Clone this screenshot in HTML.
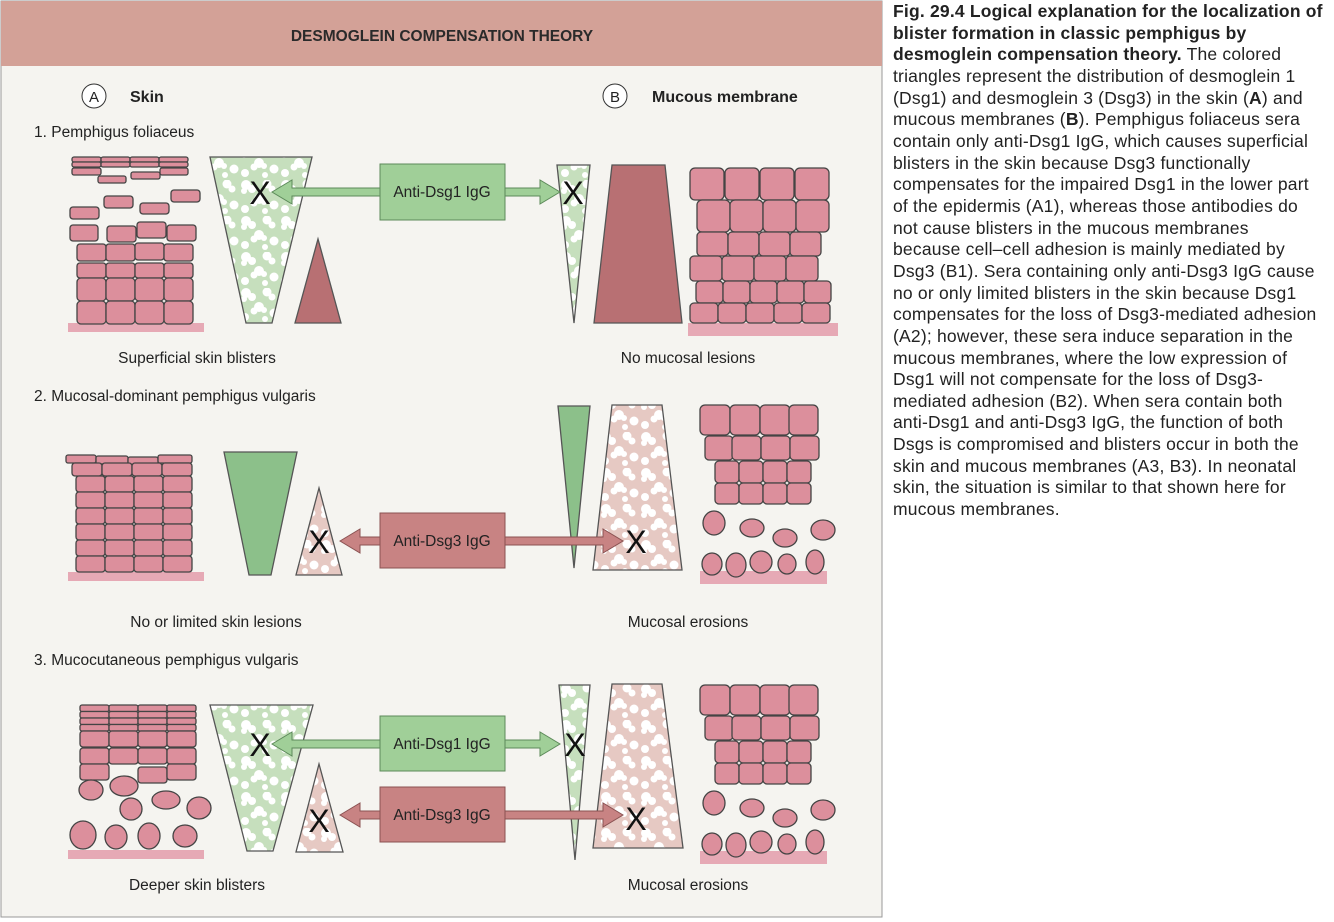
<!DOCTYPE html>
<html><head><meta charset="utf-8"><style>
body{margin:0;background:#fff;width:1334px;height:922px;overflow:hidden;font-family:"Liberation Sans",sans-serif}
#cap{position:absolute;left:893px;top:1px;font-size:17.5px;letter-spacing:0.2px;line-height:21.65px;color:#222;white-space:nowrap}
#cap b{color:#222}
</style></head><body>
<svg width="884" height="922" style="position:absolute;left:0;top:0" font-family="Liberation Sans, sans-serif">
<defs>
<pattern id="pg" width="40" height="36" patternUnits="userSpaceOnUse">
<rect width="40" height="36" fill="#c6dfbd"/>
<g fill="#fff"><circle cx="6" cy="5" r="5"/><circle cx="12" cy="9" r="4"/><circle cx="4" cy="11" r="3"/><circle cx="27" cy="4" r="4.5"/><circle cx="32" cy="9" r="3.5"/><circle cx="19" cy="19" r="5"/><circle cx="14" cy="23" r="3.5"/><circle cx="24" cy="22" r="3"/><circle cx="34" cy="25" r="4.5"/><circle cx="5" cy="29" r="4"/><circle cx="25" cy="31" r="3"/></g></pattern>
<pattern id="pp" width="40" height="36" patternUnits="userSpaceOnUse">
<rect width="40" height="36" fill="#e6c9c3"/>
<g fill="#fff"><circle cx="6" cy="5" r="5"/><circle cx="12" cy="9" r="4"/><circle cx="4" cy="11" r="3"/><circle cx="27" cy="4" r="4.5"/><circle cx="32" cy="9" r="3.5"/><circle cx="19" cy="19" r="5"/><circle cx="14" cy="23" r="3.5"/><circle cx="24" cy="22" r="3"/><circle cx="34" cy="25" r="4.5"/><circle cx="5" cy="29" r="4"/><circle cx="25" cy="31" r="3"/></g></pattern>
</defs>
<rect x="1" y="1" width="881" height="916" fill="#f5f4f0" stroke="#999" stroke-width="1"/>
<rect x="1" y="1" width="881" height="65" fill="#d3a197"/>
<text x="442" y="41" text-anchor="middle" font-size="15.5" font-weight="bold" fill="#2a2a2a">DESMOGLEIN COMPENSATION THEORY</text>
<circle cx="94" cy="96" r="12" fill="#fff" stroke="#333"/><text x="94" y="102" text-anchor="middle" font-size="15" fill="#222">A</text>
<text x="130" y="102" font-size="16" font-weight="bold" fill="#222">Skin</text>
<circle cx="615" cy="96" r="12" fill="#fff" stroke="#333"/><text x="615" y="102" text-anchor="middle" font-size="15" fill="#222">B</text>
<text x="652" y="102" font-size="16" font-weight="bold" fill="#222">Mucous membrane</text>
<g font-size="15.5" fill="#222">
<text x="34" y="137">1. Pemphigus foliaceus</text>
<text x="34" y="401">2. Mucosal-dominant pemphigus vulgaris</text>
<text x="34" y="665">3. Mucocutaneous pemphigus vulgaris</text>
<text x="197" y="363" text-anchor="middle">Superficial skin blisters</text>
<text x="688" y="363" text-anchor="middle">No mucosal lesions</text>
<text x="216" y="627" text-anchor="middle">No or limited skin lesions</text>
<text x="688" y="627" text-anchor="middle">Mucosal erosions</text>
<text x="197" y="890" text-anchor="middle">Deeper skin blisters</text>
<text x="688" y="890" text-anchor="middle">Mucosal erosions</text>
</g>
<g fill="#e6a9b5"><rect x="68" y="323" width="136" height="9"/><rect x="688" y="323" width="150" height="13"/><rect x="68" y="572" width="136" height="9"/><rect x="700" y="571" width="127" height="13"/><rect x="68" y="850" width="136" height="9"/><rect x="700" y="851" width="127" height="13"/></g>
<g fill="#dc8f9c" stroke="#444" stroke-width="1.3">
<rect x="72" y="157" width="29" height="5" rx="2"/><rect x="101" y="157" width="29" height="5" rx="2"/><rect x="130" y="157" width="29" height="5" rx="2"/><rect x="159" y="157" width="29" height="5" rx="2"/>
<rect x="72" y="162" width="29" height="5" rx="2"/><rect x="101" y="162" width="29" height="5" rx="2"/><rect x="130" y="162" width="29" height="5" rx="2"/><rect x="159" y="162" width="29" height="5" rx="2"/>
<rect x="72" y="168" width="29" height="7" rx="2"/><rect x="131" y="172" width="29" height="7" rx="2"/><rect x="160" y="168" width="28" height="7" rx="2"/><rect x="98" y="176" width="28" height="7" rx="2"/>
<rect x="70" y="207" width="29" height="12" rx="3"/><rect x="104" y="196" width="29" height="12" rx="3"/><rect x="140" y="203" width="29" height="11" rx="3"/><rect x="171" y="190" width="29" height="12" rx="3"/>
<rect x="70" y="225" width="28" height="16" rx="3"/><rect x="107" y="226" width="29" height="16" rx="3"/><rect x="137" y="222" width="29" height="16" rx="3"/><rect x="167" y="225" width="29" height="16" rx="3"/>
<rect x="77" y="244" width="29" height="17" rx="3"/><rect x="106" y="244" width="29" height="17" rx="3"/><rect x="135" y="243" width="29" height="17" rx="3"/><rect x="164" y="244" width="29" height="17" rx="3"/>
<rect x="77" y="263" width="29" height="15" rx="3"/><rect x="106" y="263" width="29" height="15" rx="3"/><rect x="135" y="263" width="29" height="15" rx="3"/><rect x="164" y="263" width="29" height="15" rx="3"/>
<rect x="77" y="278" width="29" height="23" rx="4"/><rect x="106" y="278" width="29" height="23" rx="4"/><rect x="135" y="278" width="29" height="23" rx="4"/><rect x="164" y="278" width="29" height="23" rx="4"/>
<rect x="77" y="301" width="29" height="23" rx="4"/><rect x="106" y="301" width="29" height="23" rx="4"/><rect x="135" y="301" width="29" height="23" rx="4"/><rect x="164" y="301" width="29" height="23" rx="4"/>
<rect x="690" y="168" width="34" height="32" rx="5"/><rect x="725" y="168" width="34" height="32" rx="5"/><rect x="760" y="168" width="34" height="32" rx="5"/><rect x="795" y="168" width="34" height="32" rx="5"/>
<rect x="697" y="200" width="33" height="32" rx="5"/><rect x="730" y="200" width="33" height="32" rx="5"/><rect x="763" y="200" width="33" height="32" rx="5"/><rect x="796" y="200" width="33" height="32" rx="5"/>
<rect x="697" y="232" width="31" height="24" rx="4"/><rect x="728" y="232" width="31" height="24" rx="4"/><rect x="759" y="232" width="31" height="24" rx="4"/><rect x="790" y="232" width="31" height="24" rx="4"/>
<rect x="690" y="256" width="32" height="25" rx="4"/><rect x="722" y="256" width="32" height="25" rx="4"/><rect x="754" y="256" width="32" height="25" rx="4"/><rect x="786" y="256" width="32" height="25" rx="4"/>
<rect x="696" y="281" width="27" height="22" rx="4"/><rect x="723" y="281" width="27" height="22" rx="4"/><rect x="750" y="281" width="27" height="22" rx="4"/><rect x="777" y="281" width="27" height="22" rx="4"/><rect x="804" y="281" width="27" height="22" rx="4"/>
<rect x="690" y="303" width="28" height="20" rx="4"/><rect x="718" y="303" width="28" height="20" rx="4"/><rect x="746" y="303" width="28" height="20" rx="4"/><rect x="774" y="303" width="28" height="20" rx="4"/><rect x="802" y="303" width="28" height="20" rx="4"/>
<rect x="66" y="455" width="30" height="8" rx="2"/><rect x="96" y="456" width="32" height="8" rx="2"/><rect x="128" y="457" width="30" height="8" rx="2"/><rect x="158" y="455" width="34" height="8" rx="2"/>
<rect x="72" y="463" width="30" height="13" rx="3"/><rect x="102" y="463" width="30" height="13" rx="3"/><rect x="132" y="463" width="30" height="13" rx="3"/><rect x="162" y="463" width="30" height="13" rx="3"/>
<g id="colA"><rect x="76" y="476" width="29" height="16" rx="3"/><rect x="105" y="476" width="29" height="16" rx="3"/><rect x="134" y="476" width="29" height="16" rx="3"/><rect x="163" y="476" width="29" height="16" rx="3"/></g>
<use href="#colA" y="16"/><use href="#colA" y="32"/><use href="#colA" y="48"/><use href="#colA" y="64"/><use href="#colA" y="80"/>
<g id="mb">
<rect x="700" y="405" width="30" height="30" rx="5"/><rect x="730" y="405" width="30" height="30" rx="5"/><rect x="760" y="405" width="30" height="30" rx="5"/><rect x="789" y="405" width="29" height="30" rx="5"/>
<rect x="705" y="436" width="28" height="24" rx="4"/><rect x="732" y="436" width="29" height="24" rx="4"/><rect x="761" y="436" width="29" height="24" rx="4"/><rect x="790" y="436" width="29" height="24" rx="4"/>
<rect x="715" y="461" width="24" height="22" rx="4"/><rect x="739" y="461" width="24" height="22" rx="4"/><rect x="763" y="461" width="24" height="22" rx="4"/><rect x="787" y="461" width="24" height="22" rx="4"/>
<rect x="715" y="483" width="24" height="21" rx="4"/><rect x="739" y="483" width="24" height="21" rx="4"/><rect x="763" y="483" width="24" height="21" rx="4"/><rect x="787" y="483" width="24" height="21" rx="4"/>
<ellipse cx="714" cy="523" rx="11" ry="12"/><ellipse cx="752" cy="528" rx="12" ry="9"/><ellipse cx="785" cy="538" rx="12" ry="9"/><ellipse cx="823" cy="530" rx="12" ry="10"/>
<ellipse cx="712" cy="564" rx="10" ry="11"/><ellipse cx="736" cy="565" rx="10" ry="12"/><ellipse cx="761" cy="562" rx="11" ry="11"/><ellipse cx="787" cy="564" rx="9" ry="10"/><ellipse cx="815" cy="562" rx="9" ry="12"/>
</g>
<use href="#mb" y="280"/>
<g id="fl"><rect x="80" y="705" width="29" height="6.5" rx="2"/><rect x="109" y="705" width="29" height="6.5" rx="2"/><rect x="138" y="705" width="29" height="6.5" rx="2"/><rect x="167" y="705" width="29" height="6.5" rx="2"/></g>
<use href="#fl" y="6.5"/><use href="#fl" y="13"/><use href="#fl" y="19.5"/>
<rect x="80" y="731" width="29" height="16" rx="3"/><rect x="109" y="731" width="29" height="16" rx="3"/><rect x="138" y="731" width="29" height="16" rx="3"/><rect x="167" y="731" width="29" height="16" rx="3"/>
<rect x="80" y="748" width="29" height="16" rx="3"/><rect x="109" y="748" width="29" height="16" rx="3"/><rect x="138" y="748" width="29" height="16" rx="3"/><rect x="167" y="748" width="29" height="16" rx="3"/>
<rect x="80" y="764" width="29" height="16" rx="3"/><rect x="138" y="767" width="29" height="16" rx="3"/><rect x="167" y="764" width="29" height="16" rx="3"/>
<ellipse cx="91" cy="790" rx="12" ry="10"/><ellipse cx="124" cy="786" rx="14" ry="10"/><ellipse cx="131" cy="809" rx="11" ry="11"/><ellipse cx="166" cy="800" rx="14" ry="9"/><ellipse cx="199" cy="808" rx="12" ry="11"/>
<ellipse cx="83" cy="835" rx="13" ry="14"/><ellipse cx="116" cy="837" rx="11" ry="12"/><ellipse cx="149" cy="836" rx="11" ry="13"/><ellipse cx="185" cy="836" rx="12" ry="11"/>
</g>
<g stroke="#555" stroke-width="1.3">
<polygon points="210,157 312,157 272,323 246,323" fill="url(#pg)"/>
<polygon points="295,323 341,323 318,239" fill="#b87073"/>
<polygon points="557,165 590,165 574,323" fill="url(#pg)"/>
<polygon points="612,165 665,165 682,323 594,323" fill="#b87073"/>
<polygon points="224,452 297,452 271,575 249,575" fill="#8cc08a"/>
<polygon points="296,575 342,575 319,488" fill="url(#pp)"/>
<polygon points="558,406 590,406 574,568" fill="#8cc08a"/>
<polygon points="612,405 662,405 682,570 593,570" fill="url(#pp)"/>
<polygon points="210,705 313,705 273,851 247,851" fill="url(#pg)"/>
<polygon points="296,852 343,852 319,764" fill="url(#pp)"/>
<polygon points="559,685 590,685 575,860" fill="url(#pg)"/>
<polygon points="612,684 662,684 683,848 593,848" fill="url(#pp)"/>
</g>
<g stroke="#5d8a5a" stroke-width="1" fill="#a0cf98">
<polygon points="272,192 292,180 292,188 540,188 540,180 560,192 540,204 540,196 292,196 292,204"/>
<polygon points="272,744 292,732 292,740 540,740 540,732 560,744 540,756 540,748 292,748 292,756"/>
<rect x="380" y="164" width="125" height="56"/><rect x="380" y="716" width="125" height="55"/>
</g>
<g stroke="#8a5252" stroke-width="1" fill="#c88383">
<polygon points="340,541 360,529 360,537 603,537 603,529 623,541 603,553 603,545 360,545 360,553"/>
<polygon points="340,815 360,803 360,811 603,811 603,803 623,815 603,827 603,819 360,819 360,827"/>
<rect x="380" y="513" width="125" height="55"/><rect x="380" y="787" width="125" height="55"/>
</g>
<g font-size="15.5" fill="#222" text-anchor="middle">
<text x="442" y="197">Anti-Dsg1 IgG</text><text x="442" y="749">Anti-Dsg1 IgG</text>
<text x="442" y="546">Anti-Dsg3 IgG</text><text x="442" y="820">Anti-Dsg3 IgG</text>
</g>
<g font-size="32" fill="#111" text-anchor="middle">
<text x="260" y="204">X</text><text x="573" y="204">X</text>
<text x="319" y="553">X</text><text x="636" y="553">X</text>
<text x="260" y="756">X</text><text x="575" y="756">X</text>
<text x="319" y="832">X</text><text x="636" y="830">X</text>
</g>
</svg>
<div id="cap">
<b>Fig. 29.4 Logical explanation for the localization of</b><br>
<b>blister formation in classic pemphigus by</b><br>
<b>desmoglein compensation theory.</b> The colored<br>
triangles represent the distribution of desmoglein 1<br>
(Dsg1) and desmoglein 3 (Dsg3) in the skin (<b>A</b>) and<br>
mucous membranes (<b>B</b>). Pemphigus foliaceus sera<br>
contain only anti-Dsg1 IgG, which causes superficial<br>
blisters in the skin because Dsg3 functionally<br>
compensates for the impaired Dsg1 in the lower part<br>
of the epidermis (A1), whereas those antibodies do<br>
not cause blisters in the mucous membranes<br>
because cell–cell adhesion is mainly mediated by<br>
Dsg3 (B1). Sera containing only anti-Dsg3 IgG cause<br>
no or only limited blisters in the skin because Dsg1<br>
compensates for the loss of Dsg3-mediated adhesion<br>
(A2); however, these sera induce separation in the<br>
mucous membranes, where the low expression of<br>
Dsg1 will not compensate for the loss of Dsg3-<br>
mediated adhesion (B2). When sera contain both<br>
anti-Dsg1 and anti-Dsg3 IgG, the function of both<br>
Dsgs is compromised and blisters occur in both the<br>
skin and mucous membranes (A3, B3). In neonatal<br>
skin, the situation is similar to that shown here for<br>
mucous membranes.
</div>
</body></html>
